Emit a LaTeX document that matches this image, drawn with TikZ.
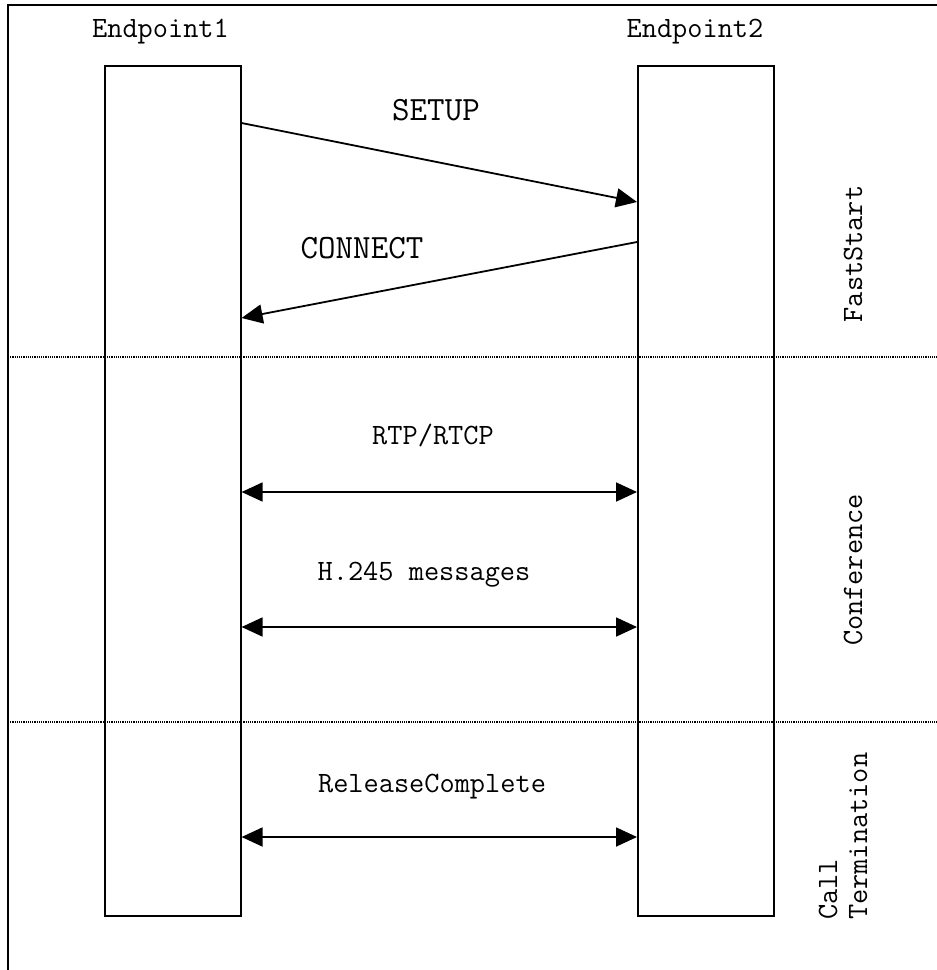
\documentclass[tikz,border=0pt]{standalone}
\usepackage{fontspec}
\usetikzlibrary{arrows.meta}
\begin{document}
\begin{tikzpicture}[x=1pt,y=-1pt,
  lifeline/.style={draw, line width=1.6pt, minimum width=136pt, minimum height=850pt,
                   inner sep=0pt, anchor=north west},
  lbl/.style={font=\ttfamily\fontsize{29.5}{33}\selectfont, inner sep=0pt, anchor=base},
  biglbl/.style={font=\ttfamily\fontsize{34}{38}\selectfont, inner sep=0pt, anchor=base},
  phase/.style={font=\ttfamily\fontsize{29.5}{33}\selectfont, inner sep=0pt, rotate=90},
  msg/.style={line width=1.8pt, -{Triangle[length=21pt,width=19pt]}},
  both/.style={line width=1.8pt, {Triangle[length=21pt,width=19pt]}-{Triangle[length=21pt,width=19pt]}},
  sep/.style={line width=1.1pt, dash pattern=on 1.1pt off 1.1pt}]
\useasboundingbox (0,0) rectangle (937,970);

% frame (top and left edges only)
\draw[line width=1.6pt] (937,5) -- (8,5) -- (8,970);

% phase separators
\draw[sep] (8,357) -- (937,357);
\draw[sep] (8,722) -- (937,722);

% lifelines
\node[lifeline] (e1) at (104,65) {};
\node[lifeline] (e2) at (637,65) {};
\node[lbl] (t1) at (160.5,37) {Endpoint1};
\node[lbl] (t2) at (695,37) {Endpoint2};

% FastStart
\draw[msg] (e1.east |- 0,123) -- (e2.west |- 0,202);
\node[biglbl] (setup) at (436,120) {SETUP};
\draw[msg] (e2.west |- 0,242) -- (e1.east |- 0,318);
\node[biglbl] (connect) at (362,258) {CONNECT};

% Conference
\node[lbl] (rtp) at (433,444) {RTP/RTCP};
\draw[both] (e1.east |- 0,492) -- (e2.west |- 0,492);
\node[lbl] (h245) at (424,580) {H.245 messages};
\draw[both] (e1.east |- 0,627) -- (e2.west |- 0,627);

% Call termination
\node[lbl] (rel) at (432,792) {ReleaseComplete};
\draw[both] (e1.east |- 0,837) -- (e2.west |- 0,837);

% phase names
\node[phase, anchor=base] (p1) at (862,254) {FastStart};
\node[phase, anchor=base] (p2) at (862,570) {Conference};
\node[phase, anchor=base west] (p3a) at (837,920) {Call};
\node[phase, anchor=base west] (p3b) at (867,920) {Termination};
\end{tikzpicture}
\end{document}
